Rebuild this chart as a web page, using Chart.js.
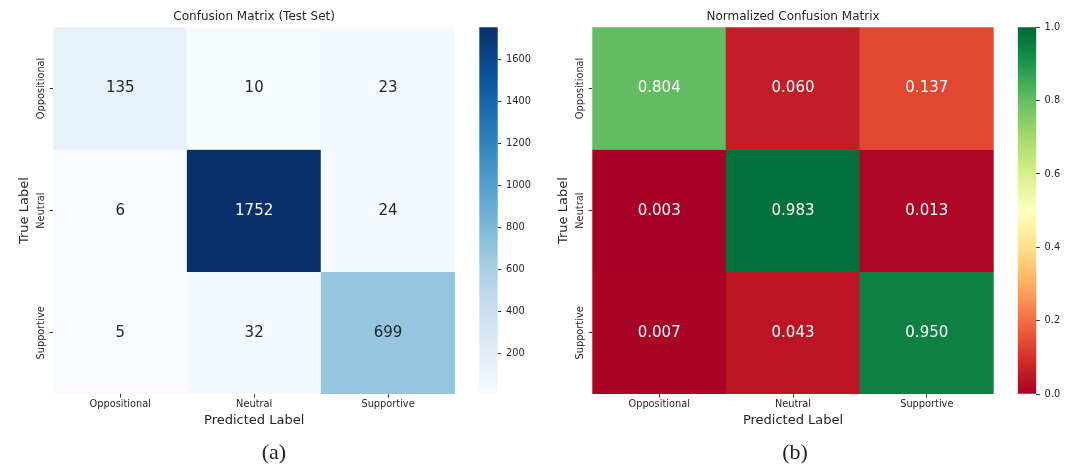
<!DOCTYPE html>
<html lang="en">
<head>
<meta charset="UTF-8">
<title>Confusion matrices</title>
<script src="https://cdn.jsdelivr.net/npm/chart.js"></script>
<style>
  body { margin: 0; background: #fff; }
  #wrap { position: relative; width: 1073px; height: 466px; overflow: hidden; }
  #wrap canvas, #wrap .cap { position: absolute; top: 0; }
  .cap {
    font-family: 'Liberation Serif', serif;
    font-size: 22px;
    color: #222;
    width: 60px;
    text-align: center;
    line-height: 26px;
  }
</style>
</head>
<body>
<div id="wrap">
  <canvas id="cmA"></canvas>
  <canvas id="cbA"></canvas>
  <canvas id="cmB"></canvas>
  <canvas id="cbB"></canvas>
  <div class="cap" style="left:244px; top:439px;">(a)</div>
  <div class="cap" style="left:765px; top:439px;">(b)</div>
</div>
<script>
// ---- data ----
const predLabels = ['Oppositional', 'Neutral', 'Supportive'];
const trueLabels = ['Oppositional', 'Neutral', 'Supportive'];

const countsOppositional = [135, 10, 23];
const countsNeutral = [6, 1752, 24];
const countsSupportive = [5, 32, 699];

const normOppositional = [0.804, 0.060, 0.137];
const normNeutral = [0.003, 0.983, 0.013];
const normSupportive = [0.007, 0.043, 0.950];

const countTicks = [200, 400, 600, 800, 1000, 1200, 1400, 1600];
const normTicks = [0.0, 0.2, 0.4, 0.6, 0.8, 1.0];

// colour maps (matplotlib Blues / RdYlGn stops)
const BLUES = ['#f7fbff', '#deebf7', '#c6dbef', '#9ecae1', '#6baed6', '#4292c6', '#2171b5', '#08519c', '#08306b'];
const RDYLGN = ['#a50026', '#d73027', '#f46d43', '#fdae61', '#fee08b', '#ffffbf', '#d9ef8b', '#a6d96a', '#66bd63', '#1a9850', '#006837'];

const FONT = "'DejaVu Sans', sans-serif";
const INK = '#262626';

function hexRgb(h) {
  return [1, 3, 5].map(i => parseInt(h.substr(i, 2), 16));
}

function cmapRgb(stops, t) {
  t = Math.max(0, Math.min(1, t));
  const pos = t * (stops.length - 1);
  const i = Math.min(Math.floor(pos), stops.length - 2);
  const f = pos - i;
  const a = hexRgb(stops[i]), b = hexRgb(stops[i + 1]);
  return a.map((v, k) => Math.round(v + (b[k] - v) * f));
}

function rgbStr(c) { return 'rgb(' + c.join(',') + ')'; }

// seaborn picks annotation colour from relative luminance
function textColor(c) {
  const lin = c.map(v => {
    v = v / 255;
    return v <= 0.03928 ? v / 12.92 : Math.pow((v + 0.055) / 1.055, 2.4);
  });
  const lum = 0.2126 * lin[0] + 0.7152 * lin[1] + 0.0722 * lin[2];
  return lum > 0.408 ? INK : '#ffffff';
}

// draws the numbers in each cell and the rotated row labels
const heatText = {
  id: 'heatText',
  afterDatasetsDraw(chart, args, opts) {
    const ctx = chart.ctx;
    ctx.save();
    ctx.textAlign = 'center';
    ctx.textBaseline = 'middle';
    ctx.font = '15px ' + FONT;
    chart.data.datasets.forEach((ds, di) => {
      chart.getDatasetMeta(di).data.forEach((bar, j) => {
        ctx.fillStyle = ds.textColors[j];
        ctx.fillText(opts.fmt(ds.values[j]), bar.x, (bar.y + bar.base) / 2);
      });
    });
    // row labels, rotated like matplotlib
    const ys = chart.scales.y;
    ctx.font = '9.8px ' + FONT;
    ctx.fillStyle = INK;
    ys.ticks.forEach((t, i) => {
      ctx.save();
      ctx.translate(chart.chartArea.left - 11.5, ys.getPixelForValue(t.value));
      ctx.rotate(-Math.PI / 2);
      ctx.fillText(trueLabels[i], 0, 0);
      ctx.restore();
    });
    ctx.restore();
  }
};

function makeHeatmap(id, left, width, rows, stops, vmin, vmax, title, fmt) {
  const cv = document.getElementById(id);
  cv.width = width; cv.height = 466;
  cv.style.left = left + 'px';
  cv.style.width = width + 'px'; cv.style.height = '466px';

  const datasets = rows.map((vals, i) => {
    const cols = vals.map(v => cmapRgb(stops, (v - vmin) / (vmax - vmin)));
    return {
      data: vals.map(() => [i, i + 1]),
      values: vals,
      backgroundColor: cols.map(rgbStr),
      textColors: cols.map(textColor),
      borderWidth: 0,
      categoryPercentage: 1,
      barPercentage: 1,
      grouped: false
    };
  });

  return new Chart(cv, {
    type: 'bar',
    data: { labels: predLabels, datasets: datasets },
    options: {
      responsive: false,
      animation: false,
      layout: { padding: { left: 0, right: width - 53.3 - 401.7, top: 0, bottom: 29.4 } },
      plugins: {
        legend: { display: false },
        tooltip: { enabled: false },
        title: {
          display: true, text: title, fullSize: false,
          color: INK, font: { family: FONT, size: 12, weight: 'normal', lineHeight: 1.2 },
          padding: { top: 10, bottom: 2.9 }
        },
        heatText: { fmt: fmt }
      },
      scales: {
        x: {
          offset: true,
          grid: { offset: false, drawOnChartArea: false, drawTicks: true, tickLength: 3.5, tickColor: '#333' },
          border: { display: false },
          ticks: { color: INK, font: { family: FONT, size: 9.8 }, padding: 1.5, maxRotation: 0 },
          title: {
            display: true, text: 'Predicted Label', color: INK,
            font: { family: FONT, size: 13, lineHeight: 1.2 }, padding: { top: 0, bottom: 7.8 }
          },
          afterFit: s => { s.height = 42.6; }
        },
        y: {
          min: 0, max: 3, reverse: true,
          grid: { drawOnChartArea: false, drawTicks: true, tickLength: 3.5, tickColor: '#333' },
          border: { display: false },
          ticks: { display: false },
          afterBuildTicks: s => { s.ticks = trueLabels.map((_, i) => ({ value: i + 0.5 })); },
          title: {
            display: true, text: 'True Label', color: INK,
            font: { family: FONT, size: 13, lineHeight: 1.2 }, padding: { top: 16.5, bottom: 0 }
          },
          afterFit: s => { s.width = 53.3; }
        }
      }
    },
    plugins: [heatText]
  });
}

function makeColorbar(id, left, width, padLeft, barW, stops, vmin, vmax, ticks, fmt) {
  const cv = document.getElementById(id);
  cv.width = width; cv.height = 466;
  cv.style.left = left + 'px';
  cv.style.width = width + 'px'; cv.style.height = '466px';

  return new Chart(cv, {
    type: 'bar',
    data: {
      labels: [''],
      datasets: [{
        data: [[vmin, vmax]],
        borderWidth: 0,
        categoryPercentage: 1,
        barPercentage: 1,
        backgroundColor: c => {
          const area = c.chart.chartArea;
          if (!area) return BLUES[0];
          const g = c.chart.ctx.createLinearGradient(0, area.bottom, 0, area.top);
          for (let k = 0; k <= 40; k++) g.addColorStop(k / 40, rgbStr(cmapRgb(stops, k / 40)));
          return g;
        }
      }]
    },
    options: {
      responsive: false,
      animation: false,
      layout: { padding: { left: padLeft, right: 0, top: 27.3, bottom: 72 } },
      plugins: { legend: { display: false }, tooltip: { enabled: false } },
      scales: {
        x: { display: false },
        y: {
          position: 'right',
          min: vmin, max: vmax,
          grid: { drawOnChartArea: false, drawTicks: true, tickLength: 3.5, tickColor: '#333' },
          border: { display: false },
          afterBuildTicks: s => { s.ticks = ticks.map(v => ({ value: v })); },
          ticks: { color: INK, font: { family: FONT, size: 9.8 }, padding: 4.8, callback: v => fmt(v) },
          afterFit: s => { s.width = width - padLeft - barW; }
        }
      }
    }
  });
}

makeHeatmap('cmA', 0, 470,
  [countsOppositional, countsNeutral, countsSupportive],
  BLUES, 5, 1752, 'Confusion Matrix (Test Set)', v => String(v));
makeColorbar('cbA', 470, 70, 9.3, 18.4, BLUES, 5, 1752, countTicks, v => String(v));

makeHeatmap('cmB', 538.7, 471.3,
  [normOppositional, normNeutral, normSupportive],
  RDYLGN, 0, 1, 'Normalized Confusion Matrix', v => v.toFixed(3));
makeColorbar('cbB', 1010, 63, 7.7, 18.6, RDYLGN, 0, 1, normTicks, v => v.toFixed(1));
</script>
</body>
</html>
